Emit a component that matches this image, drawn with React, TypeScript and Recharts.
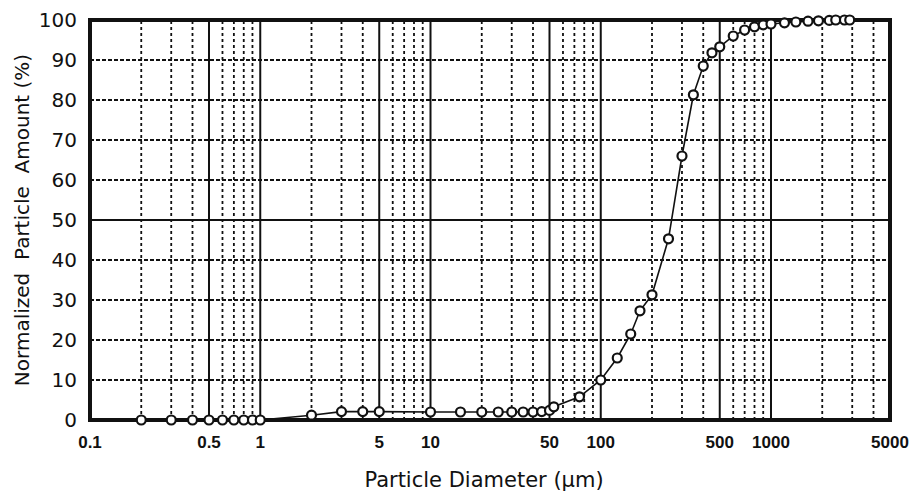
import {
  LineChart,
  Line,
  XAxis,
  YAxis,
  ReferenceLine,
  ReferenceArea,
} from 'recharts';

// particle diameters (µm) and cumulative normalized amount (%)
const diameters = [
  0.2, 0.3, 0.4, 0.5, 0.6, 0.7, 0.8, 0.9, 1, 2, 3, 4, 5, 10, 15, 20, 25, 30, 35, 40, 45, 50, 53, 75,
  100, 125, 150, 170, 200, 250, 300, 350, 400, 450, 500, 600, 700, 800, 900, 1000,
  1200, 1400, 1650, 1900, 2200, 2400, 2700, 2900,
];
const amounts = [
  0, 0, 0, 0, 0, 0, 0, 0, 0, 1.2, 2.1, 2.1, 2.1, 2, 2, 2, 2, 2, 2, 2, 2.1, 2.4, 3.3, 5.8,
  10, 15.5, 21.5, 27.3, 31.3, 45.3, 66, 81.3, 88.5, 91.8, 93.3, 96, 97.5, 98.3, 98.8, 99,
  99.3, 99.5, 99.7, 99.8, 99.9, 100, 100, 100,
];

const xTicks = [0.1, 0.5, 1, 5, 10, 50, 100, 500, 1000, 5000];
const yTicks = [0, 10, 20, 30, 40, 50, 60, 70, 80, 90, 100];

// grid lines
const xMajorLines = [0.5, 1, 5, 10, 50, 100, 500, 1000];
const xMinorLines = [
  0.2, 0.3, 0.4, 0.6, 0.7, 0.8, 0.9,
  2, 3, 4, 6, 7, 8, 9,
  20, 30, 40, 60, 70, 80, 90,
  200, 300, 400, 600, 700, 800, 900,
  2000, 3000, 4000,
];
const yMajorLines = [50];
const yMinorLines = [10, 20, 30, 40, 60, 70, 80, 90];

const chartData = diameters.map((d, i) => ({ diameter: d, amount: amounts[i] }));

const tickFont = { fontFamily: '"Liberation Sans", Arial, sans-serif', fontWeight: 700 };
const labelFont = '"DejaVu Sans", sans-serif';

// rotated y-axis title, centred on the plot height
const YTitle = ({ viewBox }: any) => {
  const cx = 22;
  const cy = viewBox.y + viewBox.height / 2;
  return (
    <text
      x={cx}
      y={cy}
      transform={`rotate(-90, ${cx}, ${cy})`}
      textAnchor="middle"
      dominantBaseline="central"
      fill="#111"
      fontSize={20}
      fontFamily={labelFont}
      style={{ whiteSpace: 'pre' }}
    >
      Normalized  Particle  Amount (%)
    </text>
  );
};

export default function App() {
  return (
    <div style={{ position: 'absolute', left: 0, top: 0, background: '#fff' }}>
      <LineChart
        width={910}
        height={491}
        data={chartData}
        margin={{ top: 20, right: 20, bottom: 0, left: 0 }}
      >
        <XAxis
          dataKey="diameter"
          type="number"
          scale="log"
          domain={[0.1, 5000]}
          ticks={xTicks}
          allowDataOverflow
          axisLine={false}
          tickLine={false}
          tickSize={6}
          tickMargin={10}
          height={71}
          interval={0}
          tick={{ fill: '#111', fontSize: 17, ...tickFont }}
          label={{
            value: 'Particle Diameter (µm)',
            position: 'insideBottom',
            offset: 4,
            dx: -6,
            style: { fill: '#111', fontSize: 21, fontFamily: labelFont },
          }}
        />
        <YAxis
          type="number"
          domain={[0, 100]}
          ticks={yTicks}
          interval={0}
          width={90}
          axisLine={false}
          tickLine={false}
          tickSize={6}
          tickMargin={7}
          tick={{ fill: '#111', fontSize: 20, fontFamily: labelFont }}
          label={<YTitle />}
        />

        {yMinorLines.map((v) => (
          <ReferenceLine key={`ym${v}`} y={v} stroke="#111" strokeWidth={1.8} strokeDasharray="4 2" />
        ))}
        {xMinorLines.map((v) => (
          <ReferenceLine key={`xm${v}`} x={v} stroke="#111" strokeWidth={1.8} strokeDasharray="3 3" />
        ))}
        {yMajorLines.map((v) => (
          <ReferenceLine key={`yM${v}`} y={v} stroke="#111" strokeWidth={2} />
        ))}
        {xMajorLines.map((v) => (
          <ReferenceLine key={`xM${v}`} x={v} stroke="#111" strokeWidth={2} />
        ))}
        <ReferenceArea
          x1={0.1}
          x2={5000}
          y1={0}
          y2={100}
          fill="none"
          fillOpacity={0}
          stroke="#111"
          strokeWidth={4}
        />

        <Line
          type="linear"
          dataKey="amount"
          stroke="#111"
          strokeWidth={1.6}
          dot={{ r: 4.5, stroke: '#111', strokeWidth: 2.2, fill: '#fff' }}
          isAnimationActive={false}
        />
      </LineChart>
    </div>
  );
}
